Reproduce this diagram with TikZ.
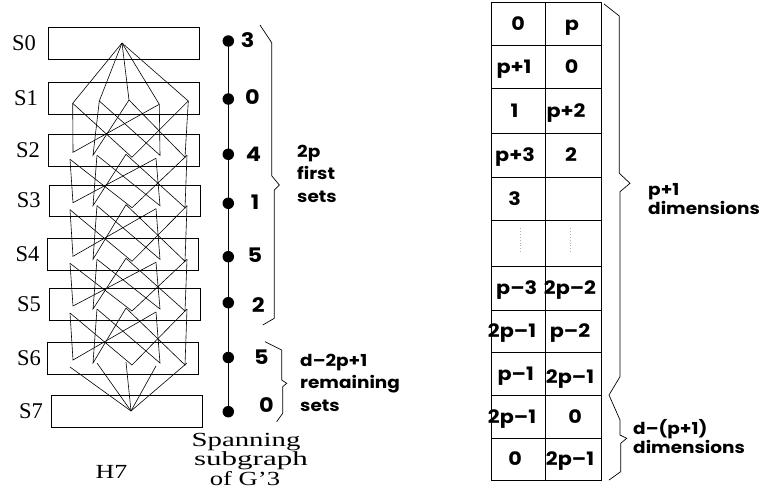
\documentclass[tikz,border=0pt]{standalone}
\usepackage{fontspec}
\usepackage{graphicx}
\newfontfamily\gf{Poppins}[FakeStretch=1.12]
\newfontfamily\tf{Liberation Serif}
\begin{document}
\begin{tikzpicture}[x=1pt,y=-1pt,
  setbox/.style={draw, line width=0.9pt, minimum width=151pt, minimum height=32pt, inner sep=0pt, anchor=north west},
  edge/.style={line width=0.6pt, line join=miter},
  dot/.style={circle, fill=black, inner sep=0pt, minimum size=11.5pt},
  numlab/.style={font=\gf\bfseries\fontsize{20}{20}\selectfont, inner sep=0pt, anchor=west},
  lab/.style={font=\gf\bfseries\fontsize{16.5}{16.5}\selectfont, inner sep=0pt, anchor=base west},
  cell/.style={font=\gf\bfseries\fontsize{18.5}{18.5}\selectfont, inner sep=0pt, anchor=base},
  slab/.style={font=\tf\fontsize{22.5}{22.5}\selectfont, inner sep=0pt, anchor=base},
  serlab/.style={font=\tf\fontsize{20}{20}\selectfont, inner sep=0pt, anchor=base},
  brace/.style={line width=0.7pt, line join=miter},
  tbl/.style={line width=0.9pt}]
\fill[white] (0,0) rectangle (760,498);
\useasboundingbox (0,0) rectangle (760,498);

% ---- sets S0..S7
\node[setbox] (s0) at (48.3,27.3) {};
\node[setbox] (s1) at (48.3,82) {};
\node[setbox] (s2) at (48.3,134.3) {};
\node[setbox, minimum height=31.3pt] (s3) at (49.3,184.7) {};
\node[setbox, minimum height=31.7pt] (s4) at (47.3,238.3) {};
\node[setbox] (s5) at (48.7,288) {};
\node[setbox, minimum height=31.7pt] (s6) at (47,342) {};
\node[setbox] (s7) at (50.7,395) {};

\node[slab] (l0) at (24,50.8) {S0};
\node[slab] (l1) at (26,105.5) {S1};
\node[slab] (l2) at (28,157.7) {S2};
\node[slab] (l3) at (28.7,207.9) {S3};
\node[slab] (l4) at (27.5,261.7) {S4};
\node[slab] (l5) at (29,311.5) {S5};
\node[slab] (l6) at (29,365.4) {S6};
\node[slab] (l7) at (31,418.7) {S7};

% ---- network points
\coordinate (p0) at (122,43);
\coordinate (p7) at (131,411);
\coordinate (o1-A) at (72.7,103.3);
\coordinate (o1-B) at (99.3,101);
\coordinate (o1-C) at (129,100);
\coordinate (o1-D) at (159.3,104.3);
\coordinate (o1-E) at (188.3,101);
\foreach \i/\T in {2/134.3,3/184.7,4/238.3,5/288,6/342} {
  \coordinate (i\i-a) at (73,\T+18);
  \coordinate (i\i-b) at (93,\T+21);
  \coordinate (i\i-c) at (132,\T+23);
  \coordinate (i\i-d) at (160,\T+21);
  \coordinate (i\i-e) at (185,\T+23);
  \coordinate (o\i-A) at (70,\T+25);
  \coordinate (o\i-B) at (97,\T+21);
  \coordinate (o\i-C) at (126,\T+20);
  \coordinate (o\i-D) at (156,\T+24);
  \coordinate (o\i-E) at (187,\T+21);
}
\foreach \X in {A,B,C,D,E} {
  \draw[edge] (p0) -- (o1-\X);
  \draw[edge] (o6-\X) -- (p7);
}
\foreach \i/\j in {1/2,2/3,3/4,4/5,5/6} {
  \draw[edge] (o\i-A) -- (i\j-a) -- (o\i-D);
  \draw[edge] (o\i-A) -- (i\j-c) -- (o\i-E);
  \draw[edge] (o\i-B) -- (i\j-b) -- (o\i-C);
  \draw[edge] (o\i-B) -- (i\j-d) -- (o\i-D);
  \draw[edge] (o\i-C) -- (i\j-e) -- (o\i-E);
}

\node[serlab] (h7) at (111.5,478) {\scalebox{1.3}[1]{H7}};

% ---- spanning subgraph
\node[dot] (d0) at (228.3,41) {};
\node[dot] (d1) at (228.3,99) {};
\node[dot] (d2) at (228.3,154.3) {};
\node[dot] (d3) at (228.3,203.3) {};
\node[dot] (d4) at (228.3,256.7) {};
\node[dot] (d5) at (228.3,302.7) {};
\node[dot] (d6) at (228.3,357.5) {};
\node[dot] (d7) at (228.3,411.7) {};
\draw[line width=0.9pt] (d0.center) -- (d7.center);

\node[numlab] (n0) at (240.7,40.3) {3};
\node[numlab] (n1) at (245,96.7) {0};
\node[numlab] (n2) at (245.7,154.3) {4};
\node[numlab] (n3) at (250.7,202.3) {1};
\node[numlab] (n4) at (247.3,255) {5};
\node[numlab] (n5) at (251.7,305) {2};
\node[numlab] (n6) at (254,357.5) {5};
\node[numlab] (n7) at (259,405.5) {0};

\draw[brace] (260,25) -- (271.7,42.7) -- (271.7,175.7) -- (279.3,185) -- (274.3,190) -- (274.3,318.3) -- (262.7,325);
\draw[brace] (265,341.7) -- (281.7,350) -- (281.7,380) -- (286.7,383.3) -- (282.7,386.7) -- (282.7,413.3) -- (276.7,421.7);

\node[lab] (t1a) at (297,157) {2p};
\node[lab] (t1b) at (297,179.5) {first};
\node[lab] (t1c) at (297,202) {sets};
\node[lab] (t2a) at (300,366) {d–2p+1};
\node[lab] (t2b) at (300,388.5) {remaining};
\node[lab] (t2c) at (300,411.5) {sets};

\node[serlab] (sp1) at (246,446.7) {\scalebox{1.44}[1]{Spanning}};
\node[serlab] (sp2) at (251,465.5) {\scalebox{1.55}[1]{subgraph}};
\node[serlab] (sp3) at (245,485) {\scalebox{1.33}[1]{of G’3}};

% ---- table
\draw[tbl] (491,2.7) rectangle (601.7,480);
\draw[tbl] (545,2.7) -- (545,480);
\foreach \yy in {45,88.3,133.3,177.3,220.7,266.7,310,352.7,395,438.3} {
  \draw[tbl] (491,\yy) -- (601.7,\yy);
}
\draw[gray!60, dotted, line width=0.9pt] (520,228) -- (520,253);
\draw[gray!60, dotted, line width=0.9pt] (570,228) -- (570,253);

\node[cell] (c1a) at (518,30.4) {0};
\node[cell] (c1b) at (572,30.4) {p};
\node[cell] (c2a) at (514,73.2) {p+1};
\node[cell] (c2b) at (571.5,73.2) {0};
\node[cell] (c3a) at (514.5,117.3) {1};
\node[cell] (c3b) at (566,117.3) {p+2};
\node[cell] (c4a) at (515,161.8) {p+3};
\node[cell] (c4b) at (571,161.8) {2};
\node[cell] (c5a) at (514.6,205.5) {3};
\node[cell] (c7a) at (516.7,294.9) {p–3};
\node[cell] (c7b) at (570,294.9) {2p–2};
\node[cell] (c8a) at (512,337.9) {2p–1};
\node[cell] (c8b) at (570,337.9) {p–2};
\node[cell] (c9a) at (515.8,380.4) {p–1};
\node[cell] (c9b) at (570,383.5) {2p–1};
\node[cell] (c10a) at (512,423.2) {2p–1};
\node[cell] (c10b) at (575,423.2) {0};
\node[cell] (c11a) at (515,465.7) {0};
\node[cell] (c11b) at (570,465.7) {2p–1};

\draw[brace] (604,4) -- (619.3,16) -- (619.3,173.3) -- (630,183.3) -- (620,191.7) -- (620,376.7) -- (609,395) -- (620,420) -- (620,435) -- (626.7,438.3) -- (620.7,443.3) -- (620.7,471.7) -- (609,480);

\node[lab] (r1a) at (648,195) {p+1};
\node[lab] (r1b) at (648,214.3) {dimensions};
\node[lab] (r2a) at (633,434.3) {d–(p+1)};
\node[lab] (r2b) at (633,453.3) {dimensions};
\end{tikzpicture}
\end{document}
